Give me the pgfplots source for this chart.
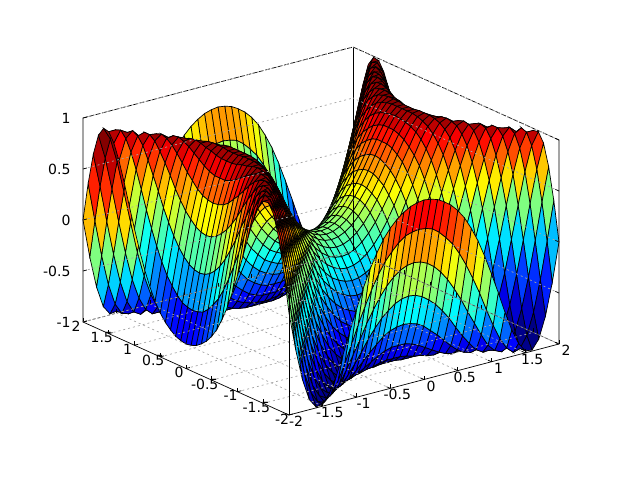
\documentclass[border=0pt]{standalone}
\usepackage{fontspec}
\setmainfont{DejaVu Sans}
\usepackage{pgfplots}
\pgfplotsset{compat=1.18}
\begin{document}
\begin{tikzpicture}
\useasboundingbox (0,0) rectangle (640pt,480pt);
\begin{axis}[
  at={(321pt,249pt)}, anchor=origin,
  x={(67.5pt,17.75pt)}, y={(-51.5pt,23.25pt)}, z={(0pt,102pt)},
  xmin=-2,xmax=2,ymin=-2,ymax=2,zmin=-1,zmax=1,
  clip=false, axis on top,
  colormap/jet, point meta min=-1, point meta max=1,
  xtick={-2,-1.5,...,2}, ytick={-2,-1.5,...,2}, ztick={-1,-0.5,...,1},
  xticklabels={-2,-1.5,-1,-0.5,0,0.5,1,1.5,2},
  yticklabels={-2,-1.5,-1,-0.5,0,0.5,1,1.5,2},
  zticklabels={-1,-0.5,0,0.5,1},
  zmajorgrids=true,
  major grid style={gray!70, dash pattern=on 2pt off 3pt, line width=0.7pt},
  axis line style={draw=none},
  tick style={black, line width=0.7pt},
  major tick length=4pt,
  tick align=inside,
  tick pos=left,
  tick label style={font=\fontsize{14}{14}\selectfont},
  xticklabel style={anchor=center, xshift=7pt, yshift=-6.5pt},
  yticklabel style={anchor=center, xshift=-7pt, yshift=-4pt},
  zticklabel style={anchor=east, xshift=-9pt},
]
\addplot3[surf, mesh/ordering=y varies, shader=flat corner, draw=black, line width=0.7pt, mesh/rows=41, mesh/cols=41]
 table[header=false, x expr={-2+0.1*floor((\coordindex+0.5)/41)}, y expr={-2+0.1*mod(\coordindex,41)}, z index=0] {
0
.38
.69
.90
.99
.98
.89
.74
.55
.34
.14
-.05
-.22
-.36
-.48
-.57
-.64
-.69
-.73
-.75
-.76
-.75
-.73
-.69
-.64
-.57
-.48
-.36
-.22
-.05
.14
.34
.55
.74
.89
.98
.99
.90
.69
.38
0
-.38
0
.36
.66
.87
.98
1.00
.94
.83
.68
.51
.33
.17
.02
-.11
-.22
-.30
-.37
-.42
-.44
-.45
-.44
-.42
-.37
-.30
-.22
-.11
.02
.17
.33
.51
.68
.83
.94
1.00
.98
.87
.66
.36
0
-.38
-.69
-.36
0
.34
.63
.84
.96
1.00
.97
.90
.78
.65
.52
.38
.26
.15
.06
-.01
-.06
-.09
-.10
-.09
-.06
-.01
.06
.15
.26
.38
.52
.65
.78
.90
.97
1.00
.96
.84
.63
.34
0
-.36
-.69
-.90
-.66
-.34
0
.32
.60
.80
.93
.99
.99
.95
.87
.78
.68
.57
.48
.40
.34
.29
.26
.25
.26
.29
.34
.40
.48
.57
.68
.78
.87
.95
.99
.99
.93
.80
.60
.32
0
-.34
-.66
-.90
-.99
-.87
-.63
-.32
0
.31
.56
.76
.90
.98
1.00
.98
.94
.88
.81
.74
.68
.62
.58
.56
.55
.56
.58
.62
.68
.74
.81
.88
.94
.98
1.00
.98
.90
.76
.56
.31
0
-.32
-.63
-.87
-.99
-.98
-.98
-.84
-.60
-.31
0
.29
.53
.72
.86
.95
.99
1.00
.98
.95
.91
.87
.83
.80
.78
.78
.78
.80
.83
.87
.91
.95
.98
1.00
.99
.95
.86
.72
.53
.29
0
-.31
-.60
-.84
-.98
-.98
-.89
-1.00
-.96
-.80
-.56
-.29
0
.27
.50
.68
.82
.91
.97
.99
1.00
.99
.97
.96
.94
.93
.93
.93
.94
.96
.97
.99
1.00
.99
.97
.91
.82
.68
.50
.27
0
-.29
-.56
-.80
-.96
-1.00
-.89
-.74
-.94
-1.00
-.93
-.76
-.53
-.27
0
.25
.46
.64
.77
.87
.93
.97
.99
1.00
1.00
1.00
.99
.99
.99
1.00
1.00
1.00
.99
.97
.93
.87
.77
.64
.46
.25
0
-.27
-.53
-.76
-.93
-1.00
-.94
-.74
-.55
-.83
-.97
-.99
-.90
-.72
-.50
-.25
0
.23
.43
.59
.72
.81
.88
.93
.96
.98
.99
.99
.99
.99
.99
.98
.96
.93
.88
.81
.72
.59
.43
.23
0
-.25
-.50
-.72
-.90
-.99
-.97
-.83
-.55
-.34
-.68
-.90
-.99
-.98
-.86
-.68
-.46
-.23
0
.21
.39
.54
.66
.75
.82
.87
.90
.92
.93
.94
.93
.92
.90
.87
.82
.75
.66
.54
.39
.21
0
-.23
-.46
-.68
-.86
-.98
-.99
-.90
-.68
-.34
-.14
-.51
-.78
-.95
-1.00
-.95
-.82
-.64
-.43
-.21
0
.19
.35
.49
.60
.68
.74
.79
.82
.84
.84
.84
.82
.79
.74
.68
.60
.49
.35
.19
0
-.21
-.43
-.64
-.82
-.95
-1.00
-.95
-.78
-.51
-.14
.05
-.33
-.65
-.87
-.98
-.99
-.91
-.77
-.59
-.39
-.19
0
.17
.31
.43
.53
.61
.66
.70
.72
.72
.72
.70
.66
.61
.53
.43
.31
.17
0
-.19
-.39
-.59
-.77
-.91
-.99
-.98
-.87
-.65
-.33
.05
.22
-.17
-.52
-.78
-.94
-1.00
-.97
-.87
-.72
-.54
-.35
-.17
0
.15
.28
.38
.46
.52
.56
.59
.60
.59
.56
.52
.46
.38
.28
.15
0
-.17
-.35
-.54
-.72
-.87
-.97
-1.00
-.94
-.78
-.52
-.17
.22
.36
-.02
-.38
-.68
-.88
-.98
-.99
-.93
-.81
-.66
-.49
-.31
-.15
0
.13
.24
.32
.39
.43
.46
.47
.46
.43
.39
.32
.24
.13
0
-.15
-.31
-.49
-.66
-.81
-.93
-.99
-.98
-.88
-.68
-.38
-.02
.36
.48
.11
-.26
-.57
-.81
-.95
-1.00
-.97
-.88
-.75
-.60
-.43
-.28
-.13
0
.11
.20
.27
.31
.34
.35
.34
.31
.27
.20
.11
0
-.13
-.28
-.43
-.60
-.75
-.88
-.97
-1.00
-.95
-.81
-.57
-.26
.11
.48
.57
.22
-.15
-.48
-.74
-.91
-.99
-.99
-.93
-.82
-.68
-.53
-.38
-.24
-.11
0
.09
.16
.21
.24
.25
.24
.21
.16
.09
0
-.11
-.24
-.38
-.53
-.68
-.82
-.93
-.99
-.99
-.91
-.74
-.48
-.15
.22
.57
.64
.30
-.06
-.40
-.68
-.87
-.97
-1.00
-.96
-.87
-.74
-.61
-.46
-.32
-.20
-.09
0
.07
.12
.15
.16
.15
.12
.07
0
-.09
-.20
-.32
-.46
-.61
-.74
-.87
-.96
-1.00
-.97
-.87
-.68
-.40
-.06
.30
.64
.69
.37
.01
-.34
-.62
-.83
-.96
-1.00
-.98
-.90
-.79
-.66
-.52
-.39
-.27
-.16
-.07
0
.05
.08
.09
.08
.05
0
-.07
-.16
-.27
-.39
-.52
-.66
-.79
-.90
-.98
-1.00
-.96
-.83
-.62
-.34
.01
.37
.69
.73
.42
.06
-.29
-.58
-.80
-.94
-1.00
-.99
-.92
-.82
-.70
-.56
-.43
-.31
-.21
-.12
-.05
0
.03
.04
.03
0
-.05
-.12
-.21
-.31
-.43
-.56
-.70
-.82
-.92
-.99
-1.00
-.94
-.80
-.58
-.29
.06
.42
.73
.75
.44
.09
-.26
-.56
-.78
-.93
-.99
-.99
-.93
-.84
-.72
-.59
-.46
-.34
-.24
-.15
-.08
-.03
0
.01
0
-.03
-.08
-.15
-.24
-.34
-.46
-.59
-.72
-.84
-.93
-.99
-.99
-.93
-.78
-.56
-.26
.09
.44
.75
.76
.45
.10
-.25
-.55
-.78
-.93
-.99
-.99
-.94
-.84
-.72
-.60
-.47
-.35
-.25
-.16
-.09
-.04
-.01
0
-.01
-.04
-.09
-.16
-.25
-.35
-.47
-.60
-.72
-.84
-.94
-.99
-.99
-.93
-.78
-.55
-.25
.10
.45
.76
.75
.44
.09
-.26
-.56
-.78
-.93
-.99
-.99
-.93
-.84
-.72
-.59
-.46
-.34
-.24
-.15
-.08
-.03
0
.01
0
-.03
-.08
-.15
-.24
-.34
-.46
-.59
-.72
-.84
-.93
-.99
-.99
-.93
-.78
-.56
-.26
.09
.44
.75
.73
.42
.06
-.29
-.58
-.80
-.94
-1.00
-.99
-.92
-.82
-.70
-.56
-.43
-.31
-.21
-.12
-.05
0
.03
.04
.03
0
-.05
-.12
-.21
-.31
-.43
-.56
-.70
-.82
-.92
-.99
-1.00
-.94
-.80
-.58
-.29
.06
.42
.73
.69
.37
.01
-.34
-.62
-.83
-.96
-1.00
-.98
-.90
-.79
-.66
-.52
-.39
-.27
-.16
-.07
0
.05
.08
.09
.08
.05
0
-.07
-.16
-.27
-.39
-.52
-.66
-.79
-.90
-.98
-1.00
-.96
-.83
-.62
-.34
.01
.37
.69
.64
.30
-.06
-.40
-.68
-.87
-.97
-1.00
-.96
-.87
-.74
-.61
-.46
-.32
-.20
-.09
0
.07
.12
.15
.16
.15
.12
.07
0
-.09
-.20
-.32
-.46
-.61
-.74
-.87
-.96
-1.00
-.97
-.87
-.68
-.40
-.06
.30
.64
.57
.22
-.15
-.48
-.74
-.91
-.99
-.99
-.93
-.82
-.68
-.53
-.38
-.24
-.11
0
.09
.16
.21
.24
.25
.24
.21
.16
.09
0
-.11
-.24
-.38
-.53
-.68
-.82
-.93
-.99
-.99
-.91
-.74
-.48
-.15
.22
.57
.48
.11
-.26
-.57
-.81
-.95
-1.00
-.97
-.88
-.75
-.60
-.43
-.28
-.13
0
.11
.20
.27
.31
.34
.35
.34
.31
.27
.20
.11
0
-.13
-.28
-.43
-.60
-.75
-.88
-.97
-1.00
-.95
-.81
-.57
-.26
.11
.48
.36
-.02
-.38
-.68
-.88
-.98
-.99
-.93
-.81
-.66
-.49
-.31
-.15
0
.13
.24
.32
.39
.43
.46
.47
.46
.43
.39
.32
.24
.13
0
-.15
-.31
-.49
-.66
-.81
-.93
-.99
-.98
-.88
-.68
-.38
-.02
.36
.22
-.17
-.52
-.78
-.94
-1.00
-.97
-.87
-.72
-.54
-.35
-.17
0
.15
.28
.38
.46
.52
.56
.59
.60
.59
.56
.52
.46
.38
.28
.15
0
-.17
-.35
-.54
-.72
-.87
-.97
-1.00
-.94
-.78
-.52
-.17
.22
.05
-.33
-.65
-.87
-.98
-.99
-.91
-.77
-.59
-.39
-.19
0
.17
.31
.43
.53
.61
.66
.70
.72
.72
.72
.70
.66
.61
.53
.43
.31
.17
0
-.19
-.39
-.59
-.77
-.91
-.99
-.98
-.87
-.65
-.33
.05
-.14
-.51
-.78
-.95
-1.00
-.95
-.82
-.64
-.43
-.21
0
.19
.35
.49
.60
.68
.74
.79
.82
.84
.84
.84
.82
.79
.74
.68
.60
.49
.35
.19
0
-.21
-.43
-.64
-.82
-.95
-1.00
-.95
-.78
-.51
-.14
-.34
-.68
-.90
-.99
-.98
-.86
-.68
-.46
-.23
0
.21
.39
.54
.66
.75
.82
.87
.90
.92
.93
.94
.93
.92
.90
.87
.82
.75
.66
.54
.39
.21
0
-.23
-.46
-.68
-.86
-.98
-.99
-.90
-.68
-.34
-.55
-.83
-.97
-.99
-.90
-.72
-.50
-.25
0
.23
.43
.59
.72
.81
.88
.93
.96
.98
.99
.99
.99
.99
.99
.98
.96
.93
.88
.81
.72
.59
.43
.23
0
-.25
-.50
-.72
-.90
-.99
-.97
-.83
-.55
-.74
-.94
-1.00
-.93
-.76
-.53
-.27
0
.25
.46
.64
.77
.87
.93
.97
.99
1.00
1.00
1.00
.99
.99
.99
1.00
1.00
1.00
.99
.97
.93
.87
.77
.64
.46
.25
0
-.27
-.53
-.76
-.93
-1.00
-.94
-.74
-.89
-1.00
-.96
-.80
-.56
-.29
0
.27
.50
.68
.82
.91
.97
.99
1.00
.99
.97
.96
.94
.93
.93
.93
.94
.96
.97
.99
1.00
.99
.97
.91
.82
.68
.50
.27
0
-.29
-.56
-.80
-.96
-1.00
-.89
-.98
-.98
-.84
-.60
-.31
0
.29
.53
.72
.86
.95
.99
1.00
.98
.95
.91
.87
.83
.80
.78
.78
.78
.80
.83
.87
.91
.95
.98
1.00
.99
.95
.86
.72
.53
.29
0
-.31
-.60
-.84
-.98
-.98
-.99
-.87
-.63
-.32
0
.31
.56
.76
.90
.98
1.00
.98
.94
.88
.81
.74
.68
.62
.58
.56
.55
.56
.58
.62
.68
.74
.81
.88
.94
.98
1.00
.98
.90
.76
.56
.31
0
-.32
-.63
-.87
-.99
-.90
-.66
-.34
0
.32
.60
.80
.93
.99
.99
.95
.87
.78
.68
.57
.48
.40
.34
.29
.26
.25
.26
.29
.34
.40
.48
.57
.68
.78
.87
.95
.99
.99
.93
.80
.60
.32
0
-.34
-.66
-.90
-.69
-.36
0
.34
.63
.84
.96
1.00
.97
.90
.78
.65
.52
.38
.26
.15
.06
-.01
-.06
-.09
-.10
-.09
-.06
-.01
.06
.15
.26
.38
.52
.65
.78
.90
.97
1.00
.96
.84
.63
.34
0
-.36
-.69
-.38
0
.36
.66
.87
.98
1.00
.94
.83
.68
.51
.33
.17
.02
-.11
-.22
-.30
-.37
-.42
-.44
-.45
-.44
-.42
-.37
-.30
-.22
-.11
.02
.17
.33
.51
.68
.83
.94
1.00
.98
.87
.66
.36
0
-.38
0
.38
.69
.90
.99
.98
.89
.74
.55
.34
.14
-.05
-.22
-.36
-.48
-.57
-.64
-.69
-.73
-.75
-.76
-.75
-.73
-.69
-.64
-.57
-.48
-.36
-.22
-.05
.14
.34
.55
.74
.89
.98
.99
.90
.69
.38
0
};
\pgfplotsinvokeforeach{-1.5,-1,-0.5,0,0.5,1,1.5}{
  \addplot3[gray!70, dash pattern=on 2pt off 3pt, line width=0.7pt] coordinates {(#1,-2,-1) (#1,2,-1)};
  \addplot3[gray!70, dash pattern=on 2pt off 3pt, line width=0.7pt] coordinates {(-2,#1,-1) (2,#1,-1)};
}
\addplot3[black, line width=0.7pt, dash pattern=on 5pt off 1.5pt] coordinates {(-2,2,1) (2,2,1) (2,-2,1)};
\addplot3[black!70, line width=0.7pt, dash pattern=on 3pt off 2pt] coordinates {(-2,2,-1) (2,2,-1) (2,-2,-1)};
\addplot3[black, line width=0.7pt] coordinates {(-2,2,1) (-2,2,-1) (-2,-2,-1) (2,-2,-1) (2,-2,1)};
\addplot3[black, line width=0.7pt] coordinates {(2,2,1) (2,2,-1)};
\addplot3[black, line width=0.7pt] coordinates {(-2,-2,-1) (-2,-2,0.2)};
\end{axis}
\end{tikzpicture}
\end{document}
